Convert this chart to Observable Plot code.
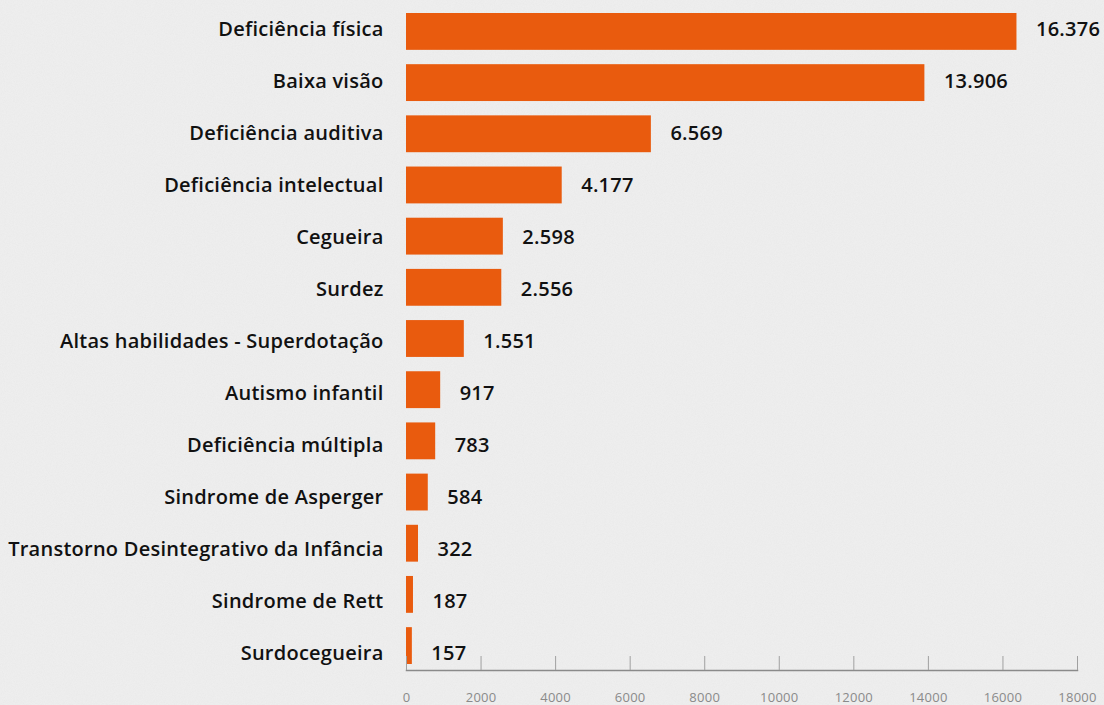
<!DOCTYPE html>
<html>
<head>
<meta charset="utf-8">
<script src="https://cdn.jsdelivr.net/npm/d3@7"></script>
<script src="https://cdn.jsdelivr.net/npm/@observablehq/plot@0.6"></script>
<style>
  html, body { margin: 0; padding: 0; background-color: #efefef; }
  body {
    background-image: url("data:image/svg+xml;utf8,<svg xmlns='http://www.w3.org/2000/svg' width='300' height='300'><filter id='n'><feTurbulence type='fractalNoise' baseFrequency='0.9' numOctaves='3' stitchTiles='stitch'/><feColorMatrix values='0 0 0 0 0.5 0 0 0 0 0.5 0 0 0 0 0.5 0 0 0 0.10 0'/></filter><rect width='300' height='300' filter='url(%23n)'/></svg>");
  }
  #chart { position: relative; width: 1104px; height: 705px; }
  #chart svg { display: block; position: absolute; left: 0; top: 0; }
</style>
</head>
<body>
<div id="chart"></div>
<script>
const categories = [
  "Deficiência física",
  "Baixa visão",
  "Deficiência auditiva",
  "Deficiência intelectual",
  "Cegueira",
  "Surdez",
  "Altas habilidades - Superdotação",
  "Autismo infantil",
  "Deficiência múltipla",
  "Sindrome de Asperger",
  "Transtorno Desintegrativo da Infância",
  "Sindrome de Rett",
  "Surdocegueira"
];
const values = [16376, 13906, 6569, 4177, 2598, 2556, 1551, 917, 783, 584, 322, 187, 157];
const xTicks = [0, 2000, 4000, 6000, 8000, 10000, 12000, 14000, 16000, 18000];

const data = categories.map((c, i) => ({category: c, value: values[i]}));
const ptBR = d3.formatLocale({decimal: ",", thousands: ".", grouping: [3], currency: ["R$", ""]});
const fmt = ptBR.format(",d");

const font = "'Open Sans', 'Noto Sans', sans-serif";
const W = 1104, H = 705;
const common = {
  width: W, height: H,
  marginLeft: 406, marginRight: 27, marginTop: 5, marginBottom: 35,
  style: {background: "transparent", fontFamily: font, letterSpacing: "0.25px"}
};

// bars + axis
const bars = Plot.plot({
  ...common,
  x: {domain: [0, 18000], axis: null},
  y: {domain: categories, range: [13, 664], paddingInner: 0.28, paddingOuter: 0, round: false, axis: null},
  marks: [
    Plot.barX(data, {x: "value", y: "category", fill: "#e95b0e"}),
    Plot.frame({anchor: "bottom", stroke: "#8a8a8a", strokeWidth: 1.5}),
    Plot.axisX({
      ticks: xTicks, tickSize: 14, dy: -14, tickPadding: 22,
      tickFormat: d => String(d), label: null,
      stroke: "#a0a0a0", color: "#8a8a8a", fontSize: 13
    })
  ]
});

// labels (category names and values), evenly spaced as in the original
const labels = Plot.plot({
  ...common,
  x: {domain: [0, 18000], axis: null},
  y: {type: "point", domain: categories, range: [28, 653], padding: 0, axis: null},
  marks: [
    Plot.text(data, {
      x: "value", y: "category", text: d => fmt(d.value),
      textAnchor: "start", dx: 19,
      fontSize: 20, fontWeight: 600, fill: "#111"
    }),
    Plot.axisY({
      tickSize: 0, tickPadding: 23, label: null,
      fontSize: 20, fontWeight: 600, fill: "#111"
    })
  ]
});

const root = document.getElementById("chart");
root.appendChild(bars);
root.appendChild(labels);
</script>
</body>
</html>
